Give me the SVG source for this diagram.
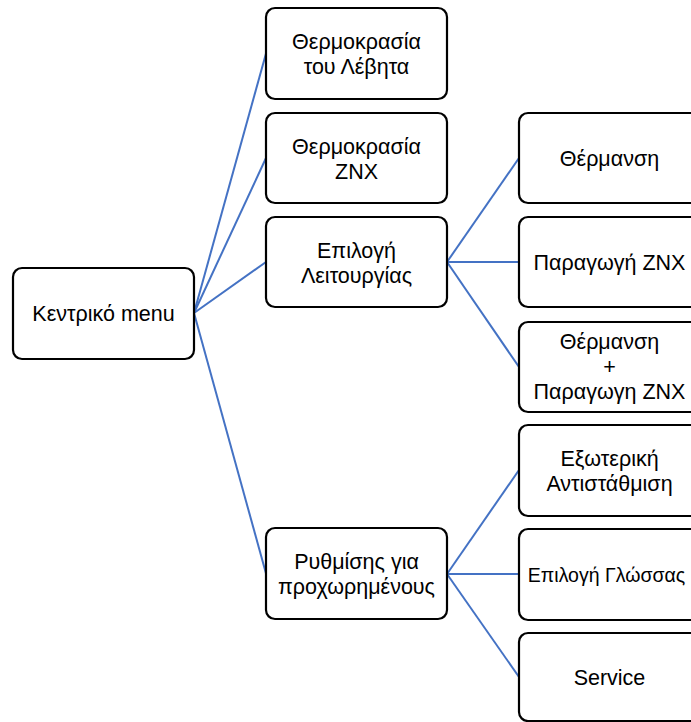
<svg xmlns="http://www.w3.org/2000/svg" width="691" height="722" viewBox="0 0 691 722">
<style>
.box{fill:#fff;stroke:#000;stroke-width:2.2}
.t{font-family:"Liberation Sans","Noto Sans",sans-serif;font-size:21.5px;fill:#000;text-anchor:middle}
.c{stroke:#4472c4;stroke-width:2;fill:none}
</style>
<rect width="691" height="722" fill="#fff"/>
<g id="connectors">
<line class="c" x1="194" y1="313" x2="266" y2="53.5"/>
<line class="c" x1="194" y1="313" x2="266" y2="158"/>
<line class="c" x1="194" y1="313" x2="266" y2="262"/>
<line class="c" x1="194" y1="313" x2="266" y2="573.5"/>
<line class="c" x1="447" y1="262" x2="519" y2="158"/>
<line class="c" x1="447" y1="262" x2="519" y2="262"/>
<line class="c" x1="447" y1="262" x2="519" y2="367"/>
<line class="c" x1="447" y1="574" x2="519" y2="470"/>
<line class="c" x1="447" y1="574" x2="519" y2="574"/>
<line class="c" x1="447" y1="574" x2="519" y2="677"/>
</g>
<g id="root">
<rect class="box" x="13" y="268" width="181" height="91" rx="9"/>
<text class="t" x="103.5" y="321">Κεντρικό menu</text>
</g>
<g id="n-boiler-temp">
<rect class="box" x="266" y="8" width="181" height="91" rx="9"/>
<text class="t" x="356.5" y="49">Θερμοκρασία</text>
<text class="t" x="356.5" y="74">του Λέβητα</text>
</g>
<g id="n-dhw-temp">
<rect class="box" x="266" y="113" width="181" height="90" rx="9"/>
<text class="t" x="356.5" y="153.5">Θερμοκρασία</text>
<text class="t" x="356.5" y="178.5">ZNX</text>
</g>
<g id="n-mode">
<rect class="box" x="266" y="217" width="181" height="90" rx="9"/>
<text class="t" x="356.5" y="257.5">Επιλογή</text>
<text class="t" x="356.5" y="282.5">Λειτουργίας</text>
</g>
<g id="n-advanced">
<rect class="box" x="266" y="528" width="181" height="91" rx="9"/>
<text class="t" x="356.5" y="569">Ρυθμίσης για</text>
<text class="t" x="356.5" y="594">προχωρημένους</text>
</g>
<g id="n-heating">
<rect class="box" x="519" y="113" width="181" height="90" rx="9"/>
<text class="t" x="609.5" y="166">Θέρμανση</text>
</g>
<g id="n-dhw">
<rect class="box" x="519" y="217" width="181" height="90" rx="9"/>
<text class="t" x="609.5" y="270">Παραγωγή ZNX</text>
</g>
<g id="n-both">
<rect class="box" x="519" y="322" width="181" height="90" rx="9"/>
<text class="t" x="609.5" y="349">Θέρμανση</text>
<text class="t" x="609.5" y="374">+</text>
<text class="t" x="609.5" y="399">Παραγωγη ZNX</text>
</g>
<g id="n-outdoor">
<rect class="box" x="519" y="425" width="181" height="91" rx="9"/>
<text class="t" x="609.5" y="466">Εξωτερική</text>
<text class="t" x="609.5" y="491">Αντιστάθμιση</text>
</g>
<g id="n-language">
<rect class="box" x="519" y="529" width="181" height="91" rx="9"/>
<text class="t" x="606.5" y="582" style="font-size:19.5px">Επιλογή Γλώσσας</text>
</g>
<g id="n-service">
<rect class="box" x="519" y="633" width="181" height="88" rx="9"/>
<text class="t" x="609.5" y="685">Service</text>
</g>
</svg>
